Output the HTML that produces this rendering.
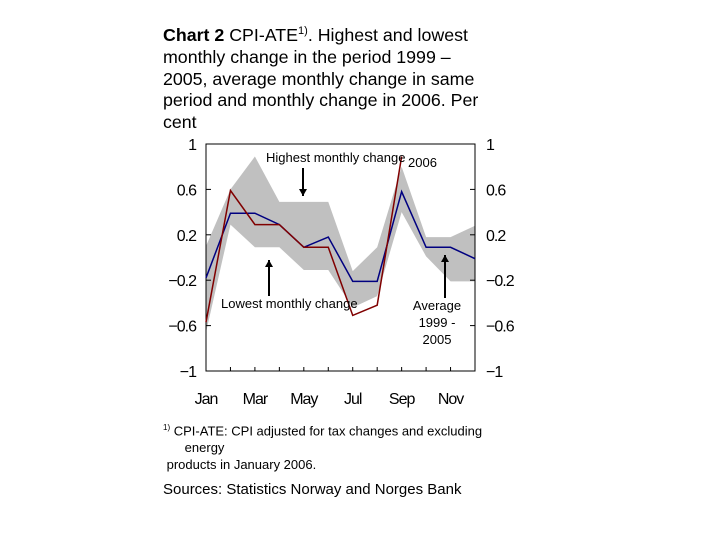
<!DOCTYPE html>
<html><head><meta charset="utf-8"><style>
body{margin:0;background:#fff;width:720px;height:540px;overflow:hidden;font-family:"Liberation Sans",sans-serif;}
#title{position:absolute;left:163px;top:21px;width:400px;font-size:17.8px;line-height:21.8px;color:#000;white-space:nowrap;}
.note{position:absolute;font-size:13px;color:#000;}
</style></head><body>
<div id="title"><b>Chart 2</b> CPI-ATE<sup style="font-size:11px">1)</sup>. Highest and lowest<br>monthly change in the period 1999 –<br>2005, average monthly change in same<br>period and monthly change in 2006. Per<br>cent</div>
<svg id="chart" width="720" height="540" style="position:absolute;left:0;top:0"></svg>
<div class="note" style="left:163px;top:419px;line-height:17px"><sup style="font-size:8px">1)</sup> CPI-ATE: CPI adjusted for tax changes and excluding<br>&nbsp;&nbsp;&nbsp;&nbsp;&nbsp;&nbsp;energy<br>&nbsp;products in January 2006.</div>
<div class="note" style="left:163px;top:481px;font-size:15px">Sources: Statistics Norway and Norges Bank</div>
<script>
const months=["Jan","Feb","Mar","Apr","May","Jun","Jul","Aug","Sep","Oct","Nov","Dec"];
const xLabels=["Jan","Mar","May","Jul","Sep","Nov"];
const yTicks=[1,0.6,0.2,-0.2,-0.6,-1];
const highest=[0.1,0.6,0.89,0.49,0.49,0.49,-0.12,0.09,0.8,0.18,0.18,0.28];
const lowest=[-0.66,0.29,0.09,0.09,-0.11,-0.11,-0.44,-0.34,0.4,0.01,-0.21,-0.21];
const average=[-0.18,0.39,0.39,0.29,0.09,0.18,-0.21,-0.21,0.58,0.09,0.09,-0.01];
const y2006=[-0.57,0.59,0.29,0.29,0.09,0.09,-0.51,-0.42,0.89];
const NS="http://www.w3.org/2000/svg";
const svg=document.getElementById('chart');
const L=206,R=475,T=144,B=371;
const x=i=>L+i*(R-L)/11;
const y=v=>T+(1-v)*(B-T)/2;
function mk(tag,attrs,parent){const e=document.createElementNS(NS,tag);for(const k in attrs)e.setAttribute(k,attrs[k]);(parent||svg).appendChild(e);return e;}
let pts=highest.map((v,i)=>x(i)+','+y(v)).concat(lowest.map((v,i)=>[i,v]).reverse().map(([i,v])=>x(i)+','+y(v)));
const band=mk('polygon',{points:pts.join(' '),fill:'#c0c0c0'});


const fr=mk('rect',{x:L,y:T,width:R-L,height:B-T,fill:'none',stroke:'#000','stroke-width':1});


yTicks.forEach(v=>{
  mk('line',{x1:L,x2:L+5,y1:y(v),y2:y(v),stroke:'#000'});
  mk('line',{x1:R-5,x2:R,y1:y(v),y2:y(v),stroke:'#000'});
  const s=v<0?'−'+Math.abs(v):String(v);
  const t1=mk('text',{x:196,y:y(v)+6,'text-anchor':'end','font-size':16,'letter-spacing':'-1'});t1.textContent=s;
  
  
  const t2=mk('text',{x:486,y:y(v)+6,'text-anchor':'start','font-size':16,'letter-spacing':'-1'});t2.textContent=s;
  
  
});
months.forEach((m,i)=>{mk('line',{x1:x(i),x2:x(i),y1:B,y2:B-4,stroke:'#000'});});
xLabels.forEach(m=>{const i=months.indexOf(m);
  const t=mk('text',{x:x(i),y:404,'text-anchor':'middle','font-size':16,'letter-spacing':'-1'});t.textContent=m;
  
  });
const la=mk('polyline',{points:average.map((v,i)=>x(i)+','+y(v)).join(' '),fill:'none',stroke:'#000080','stroke-width':1.5});


const lr=mk('polyline',{points:y2006.map((v,i)=>x(i)+','+y(v)).join(' '),fill:'none',stroke:'#800000','stroke-width':1.5});


function arrow(x0,y1,y2,name){const g=mk('g',{});
  mk('line',{x1:x0,x2:x0,y1:y1,y2:y2,stroke:'#000','stroke-width':2},g);
  const d=y2>y1?1:-1;mk('polygon',{points:`${x0-4},${y2-7*d} ${x0+4},${y2-7*d} ${x0},${y2}`,fill:'#000'},g);}
arrow(303,168,196,'arrow-highest');arrow(269,296,260,'arrow-lowest');arrow(445,298,255,'arrow-average');
function lbl(t,xx,yy,n,anchor){const e=mk('text',{x:xx,y:yy,'font-size':13,'text-anchor':anchor||'start'});e.textContent=t;}
lbl('Highest monthly change',266,162,'label-highest');
lbl('2006',408,167,'label-2006');
lbl('Lowest monthly change',221,308,'label-lowest');
lbl('Average',437,310,'label-average','middle');
lbl('1999 -',437,327,'label-average-years1','middle');
lbl('2005',437,344,'label-average-years2','middle');
</script>
</body></html>
